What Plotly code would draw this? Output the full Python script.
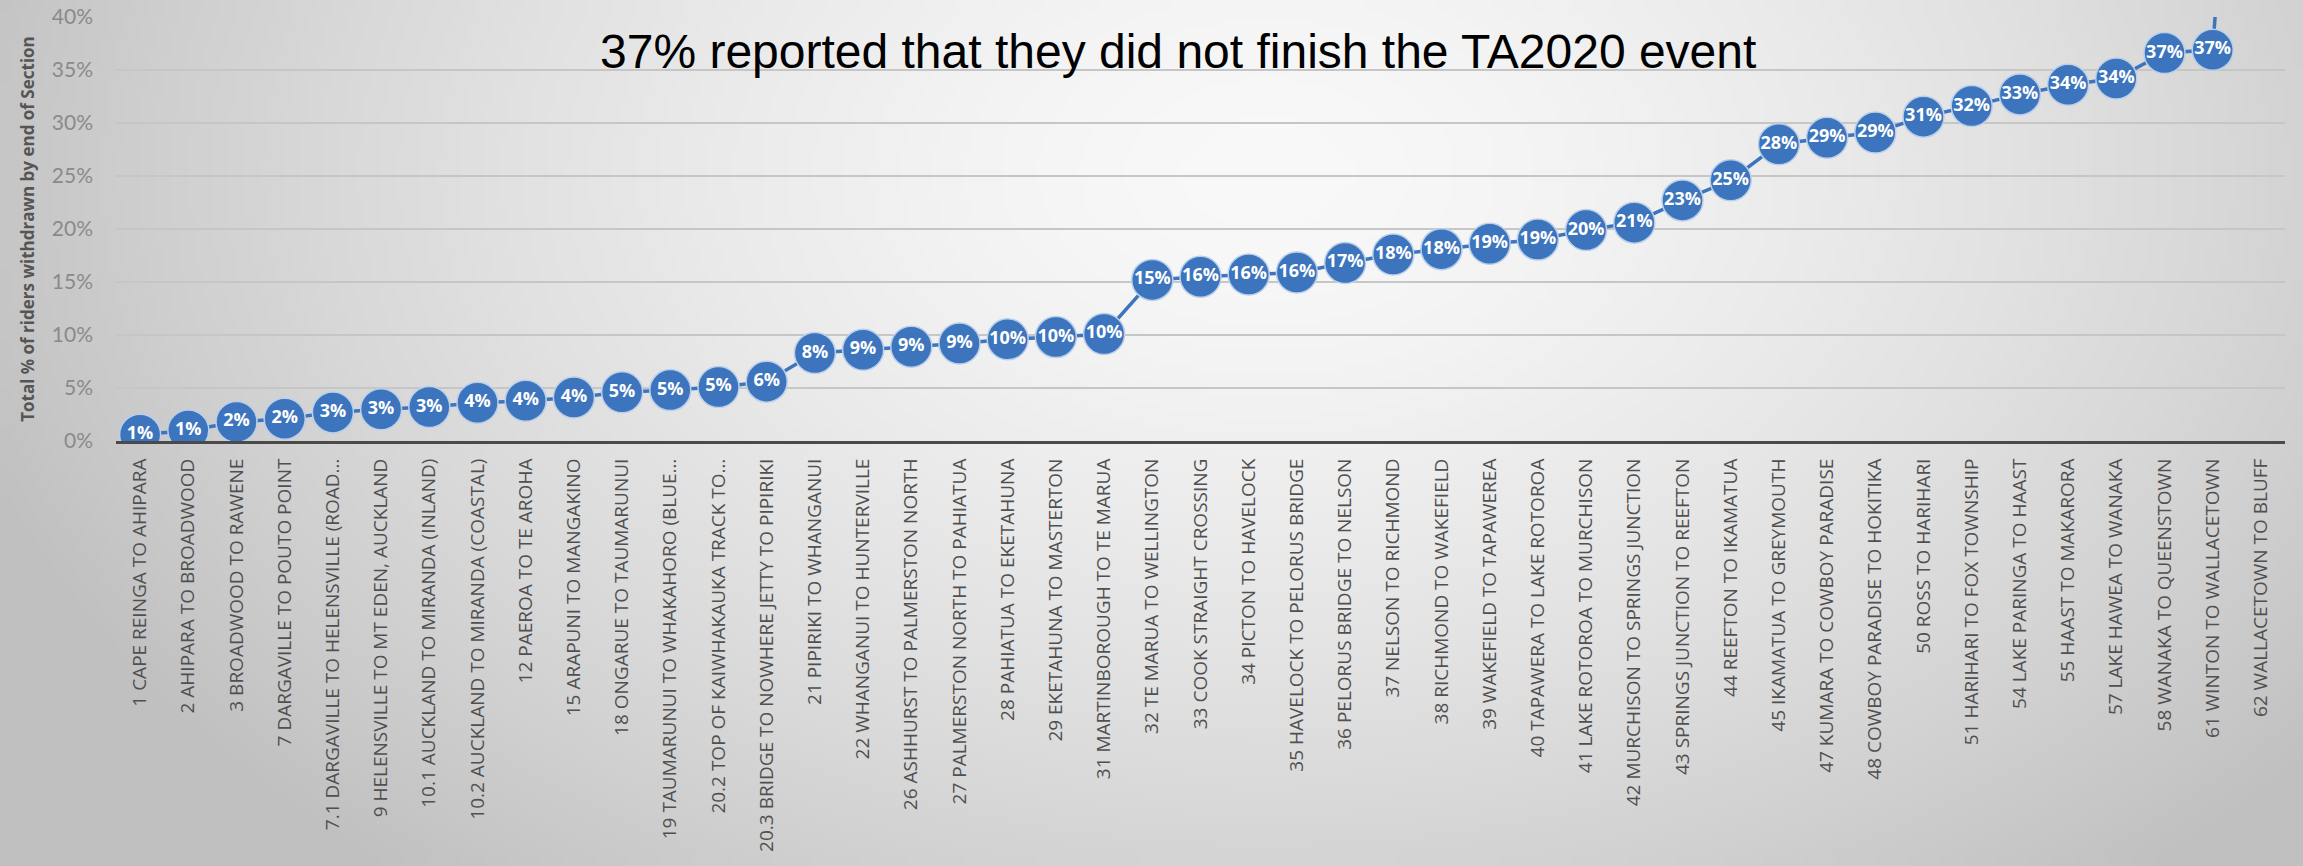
import base64, struct, zlib
import numpy as np
import plotly.graph_objects as go

sections = [
    "1 CAPE REINGA TO AHIPARA",
    "2 AHIPARA TO BROADWOOD",
    "3 BROADWOOD TO RAWENE",
    "7 DARGAVILLE TO POUTO POINT",
    "7.1 DARGAVILLE TO HELENSVILLE (ROAD…",
    "9 HELENSVILLE TO MT EDEN, AUCKLAND",
    "10.1 AUCKLAND TO MIRANDA (INLAND)",
    "10.2 AUCKLAND TO MIRANDA (COASTAL)",
    "12 PAEROA TO TE AROHA",
    "15 ARAPUNI TO MANGAKINO",
    "18 ONGARUE TO TAUMARUNUI",
    "19 TAUMARUNUI TO WHAKAHORO (BLUE…",
    "20.2 TOP OF KAIWHAKAUKA TRACK TO…",
    "20.3 BRIDGE TO NOWHERE JETTY TO PIPIRIKI",
    "21 PIPIRIKI TO WHANGANUI",
    "22 WHANGANUI TO HUNTERVILLE",
    "26 ASHHURST TO PALMERSTON NORTH",
    "27 PALMERSTON NORTH TO PAHIATUA",
    "28 PAHIATUA TO EKETAHUNA",
    "29 EKETAHUNA TO MASTERTON",
    "31 MARTINBOROUGH TO TE MARUA",
    "32 TE MARUA TO WELLINGTON",
    "33 COOK STRAIGHT CROSSING",
    "34 PICTON TO HAVELOCK",
    "35 HAVELOCK TO PELORUS BRIDGE",
    "36 PELORUS BRIDGE TO NELSON",
    "37 NELSON TO RICHMOND",
    "38 RICHMOND TO WAKEFIELD",
    "39 WAKEFIELD TO TAPAWEREA",
    "40 TAPAWERA TO LAKE ROTOROA",
    "41 LAKE ROTOROA TO MURCHISON",
    "42 MURCHISON TO SPRINGS JUNCTION",
    "43 SPRINGS JUNCTION TO REEFTON",
    "44 REEFTON TO IKAMATUA",
    "45 IKAMATUA TO GREYMOUTH",
    "47 KUMARA TO COWBOY PARADISE",
    "48 COWBOY PARADISE TO HOKITIKA",
    "50 ROSS TO HARIHARI",
    "51 HARIHARI TO FOX TOWNSHIP",
    "54 LAKE PARINGA TO HAAST",
    "55 HAAST TO MAKARORA",
    "57 LAKE HAWEA TO WANAKA",
    "58 WANAKA TO QUEENSTOWN",
    "61 WINTON TO WALLACETOWN",
    "62 WALLACETOWN TO BLUFF",
]

withdrawn_pct = [
    0.6, 1.0, 1.8, 2.1, 2.7, 3.0, 3.2, 3.6, 3.8, 4.1,
    4.6, 4.8, 5.1, 5.6, 8.3, 8.6, 8.9, 9.2, 9.6, 9.8,
    10.1, 15.2, 15.5, 15.7, 15.9, 16.8, 17.6, 18.1, 18.6, 19.0,
    19.9, 20.6, 22.7, 24.6, 28.0, 28.6, 29.1, 30.6, 31.6, 32.7,
    33.6, 34.2, 36.6, 36.9, 100.0,
]

y_ticks = [0, 5, 10, 15, 20, 25, 30, 35, 40]
y_tick_labels = ["0%", "5%", "10%", "15%", "20%", "25%", "30%", "35%", "40%"]

title_text = "37% reported that they did not finish the TA2020 event"
y_title = "Total % of riders withdrawn by end of Section"

# point labels (points beyond the visible axis range carry no label)
point_text = [f"{v:.0f}%" if v <= y_ticks[-1] else "" for v in withdrawn_pct]


# ---- soft grey radial background, built as a small PNG ----
def make_bg_png(w=288, h=108):
    xs = (np.arange(w) + 0.5) / w
    ys = (np.arange(h) + 0.5) / h
    X, Y = np.meshgrid(xs, ys)
    d = np.sqrt(((X - 0.55) / 0.5) ** 2 + ((Y - 0.2) / 0.9) ** 2)
    v = 249 - 44 * d ** 1.5
    v = np.clip(v, 192, 250).astype(np.uint8)
    raw = b"".join(b"\x00" + v[r].tobytes() for r in range(h))

    def chunk(tag, data):
        c = struct.pack(">I", len(data)) + tag + data
        return c + struct.pack(">I", zlib.crc32(tag + data) & 0xFFFFFFFF)

    png = b"\x89PNG\r\n\x1a\n"
    png += chunk(b"IHDR", struct.pack(">IIBBBBB", w, h, 8, 0, 0, 0, 0))
    png += chunk(b"IDAT", zlib.compress(raw, 9))
    png += chunk(b"IEND", b"")
    return "data:image/png;base64," + base64.b64encode(png).decode()


blue = "#3c74bd"
W, H = 2303, 866
L, R, T, B = 116, 18, 17, 425
PW, PH = W - L - R, H - T - B

fig = go.Figure()
fig.add_trace(go.Scatter(
    x=sections,
    y=withdrawn_pct,
    mode="lines+markers+text",
    line=dict(color=blue, width=3.5),
    marker=dict(size=41, color=blue, line=dict(color="#b9cfea", width=1.5)),
    text=point_text,
    textposition="middle center",
    textfont=dict(family="Open Sans", size=18, color="white", weight="bold"),
    cliponaxis=True,
    hoverinfo="x+y",
))

fig.update_layout(
    width=W,
    height=H,
    margin=dict(l=L, r=R, t=T, b=B, autoexpand=False),
    paper_bgcolor="rgba(0,0,0,0)",
    plot_bgcolor="rgba(0,0,0,0)",
    showlegend=False,
    images=[dict(
        source=make_bg_png(),
        xref="paper", yref="paper",
        x=-L / PW, y=1 + T / PH,
        sizex=W / PW, sizey=H / PH,
        sizing="stretch", layer="below",
        xanchor="left", yanchor="top",
    )],
    xaxis=dict(
        type="category",
        tickmode="array",
        tickvals=sections,
        ticktext=sections,
        tickangle=-90,
        tickfont=dict(family="Open Sans", size=19, color="#505050"),
        showgrid=False,
        showline=True,
        linecolor="#4a4a4a",
        linewidth=3,
        ticks="",
        ticklabelstandoff=7,
        range=[-0.5, len(sections) - 0.5],
        automargin=False,
        fixedrange=True,
    ),
    yaxis=dict(
        range=[0, 40],
        tickmode="array",
        tickvals=y_ticks,
        ticktext=y_tick_labels,
        tickfont=dict(family="Lato", size=21, color="#8a8a8a"),
        showgrid=True,
        gridcolor="#c6c6c6",
        gridwidth=2,
        zeroline=False,
        showline=False,
        ticks="",
        ticklabelstandoff=22,
        title=dict(text=y_title, font=dict(family="Open Sans", size=17, color="#555555", weight="bold"), standoff=12),
        automargin=False,
        fixedrange=True,
    ),
    annotations=[dict(
        text=title_text,
        xref="paper", yref="paper",
        x=(1178 - L) / PW, y=(441 - 52) / PH,
        xanchor="center", yanchor="middle",
        showarrow=False,
        font=dict(family="Liberation Sans, Arial", size=48, color="#000000"),
    )],
)

fig.write_html(
    "out.html",
    config={"displayModeBar": False},
    post_script="document.body.style.margin='0';document.body.style.overflow='hidden';",
)
